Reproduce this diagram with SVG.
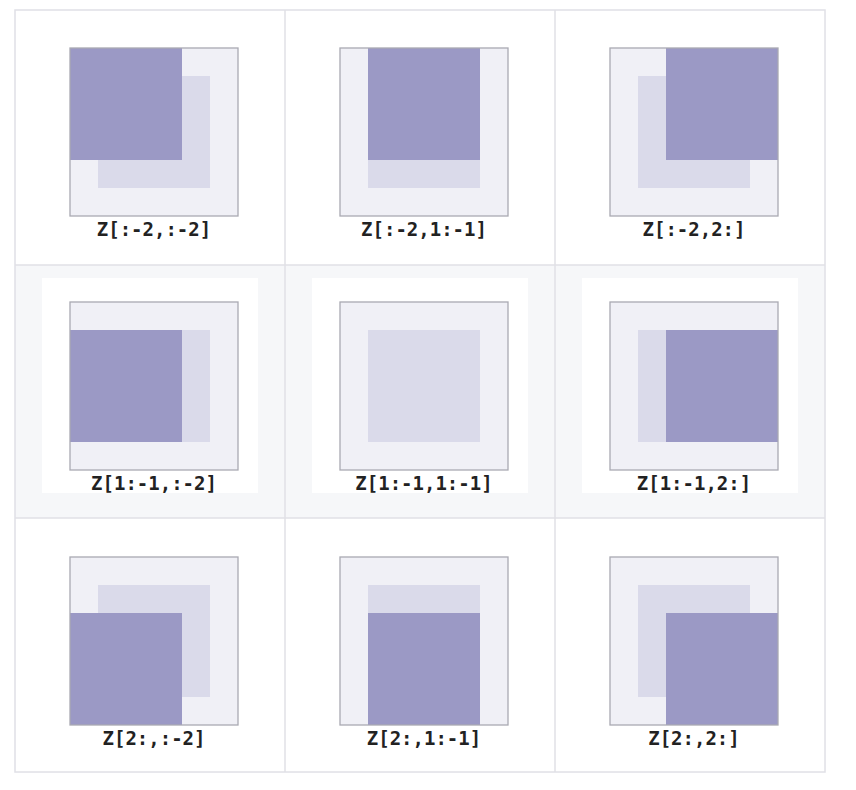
<svg xmlns="http://www.w3.org/2000/svg" width="856" height="790" viewBox="0 0 856 790">
<style>
.grid{stroke:#e0e0e6;stroke-width:1.5;fill:none}
.outer{fill:#f0f0f6}
.frame{fill:none;stroke:#a9a9b2;stroke-width:1.3}
.light{fill:#dadaea}
.dark{fill:#9b99c5}
.lbl{font-family:"DejaVu Sans Mono","Liberation Mono",monospace;font-weight:bold;font-size:19px;fill:#222;text-anchor:middle}
</style>
<rect x="0" y="0" width="856" height="790" fill="#ffffff"/>
<rect x="15" y="265" width="810" height="253" fill="#f6f7f9"/>
<rect x="42" y="278" width="216" height="215" fill="#ffffff"/>
<rect x="312" y="278" width="216" height="215" fill="#ffffff"/>
<rect x="582" y="278" width="216" height="215" fill="#ffffff"/>
<g id="cell-0-0"><rect class="outer" x="70" y="48" width="168" height="168"/><rect class="light" x="98" y="76" width="112" height="112"/><rect class="dark" x="70" y="48" width="112" height="112"/><rect class="frame" x="70" y="48" width="168" height="168"/><text class="lbl" x="154" y="236">Z[:-2,:-2]</text></g>
<g id="cell-0-1"><rect class="outer" x="340" y="48" width="168" height="168"/><rect class="light" x="368" y="76" width="112" height="112"/><rect class="dark" x="368" y="48" width="112" height="112"/><rect class="frame" x="340" y="48" width="168" height="168"/><text class="lbl" x="424" y="236">Z[:-2,1:-1]</text></g>
<g id="cell-0-2"><rect class="outer" x="610" y="48" width="168" height="168"/><rect class="light" x="638" y="76" width="112" height="112"/><rect class="dark" x="666" y="48" width="112" height="112"/><rect class="frame" x="610" y="48" width="168" height="168"/><text class="lbl" x="694" y="236">Z[:-2,2:]</text></g>
<g id="cell-1-0"><rect class="outer" x="70" y="302" width="168" height="168"/><rect class="light" x="98" y="330" width="112" height="112"/><rect class="dark" x="70" y="330" width="112" height="112"/><rect class="frame" x="70" y="302" width="168" height="168"/><text class="lbl" x="154" y="490">Z[1:-1,:-2]</text></g>
<g id="cell-1-1"><rect class="outer" x="340" y="302" width="168" height="168"/><rect class="light" x="368" y="330" width="112" height="112"/><rect class="frame" x="340" y="302" width="168" height="168"/><text class="lbl" x="424" y="490">Z[1:-1,1:-1]</text></g>
<g id="cell-1-2"><rect class="outer" x="610" y="302" width="168" height="168"/><rect class="light" x="638" y="330" width="112" height="112"/><rect class="dark" x="666" y="330" width="112" height="112"/><rect class="frame" x="610" y="302" width="168" height="168"/><text class="lbl" x="694" y="490">Z[1:-1,2:]</text></g>
<g id="cell-2-0"><rect class="outer" x="70" y="557" width="168" height="168"/><rect class="light" x="98" y="585" width="112" height="112"/><rect class="dark" x="70" y="613" width="112" height="112"/><rect class="frame" x="70" y="557" width="168" height="168"/><text class="lbl" x="154" y="745">Z[2:,:-2]</text></g>
<g id="cell-2-1"><rect class="outer" x="340" y="557" width="168" height="168"/><rect class="light" x="368" y="585" width="112" height="112"/><rect class="dark" x="368" y="613" width="112" height="112"/><rect class="frame" x="340" y="557" width="168" height="168"/><text class="lbl" x="424" y="745">Z[2:,1:-1]</text></g>
<g id="cell-2-2"><rect class="outer" x="610" y="557" width="168" height="168"/><rect class="light" x="638" y="585" width="112" height="112"/><rect class="dark" x="666" y="613" width="112" height="112"/><rect class="frame" x="610" y="557" width="168" height="168"/><text class="lbl" x="694" y="745">Z[2:,2:]</text></g>
<g id="connectors" class="grid">
<rect x="15" y="10" width="810" height="762"/>
<line x1="285" y1="10" x2="285" y2="772"/>
<line x1="555" y1="10" x2="555" y2="772"/>
<line x1="15" y1="265" x2="825" y2="265"/>
<line x1="15" y1="518" x2="825" y2="518"/>
</g>
</svg>
